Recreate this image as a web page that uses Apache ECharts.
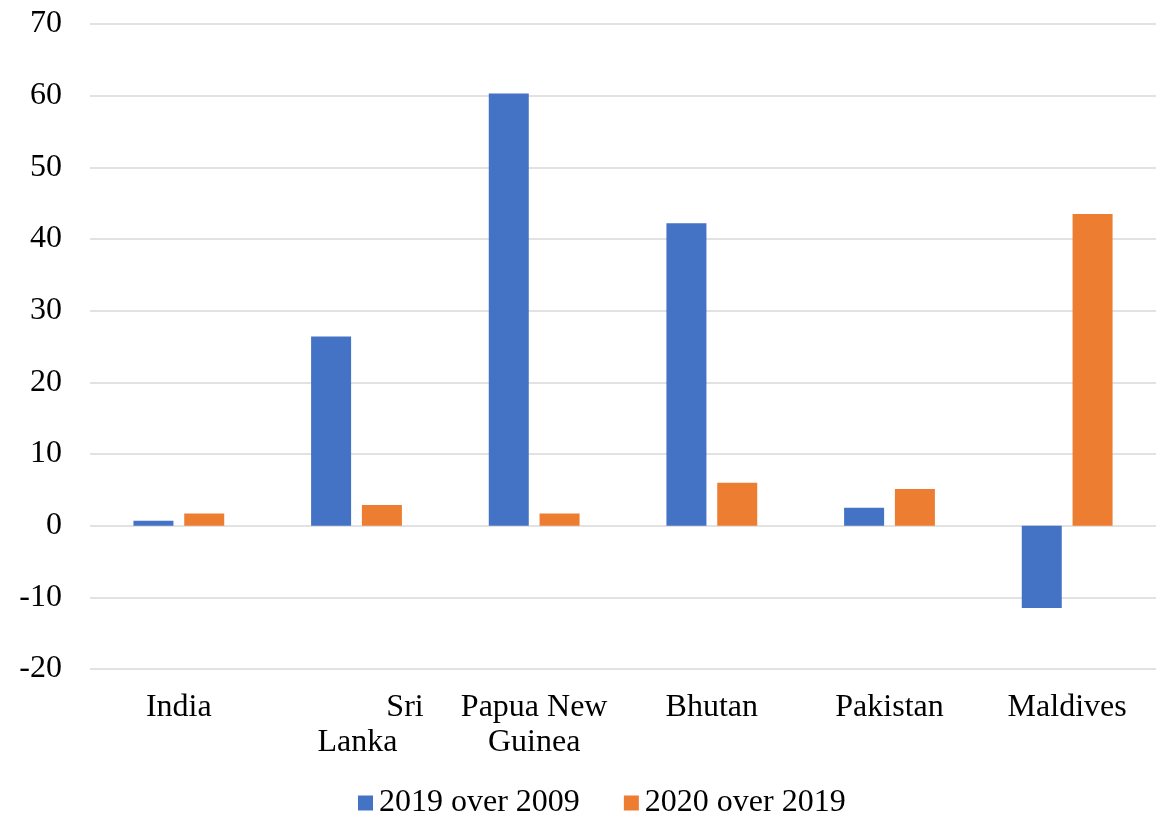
<!DOCTYPE html>
<html>
<head>
<meta charset="utf-8">
<script src="https://cdn.jsdelivr.net/npm/echarts@6/dist/echarts.min.js"></script>
<style>
  html, body { margin: 0; padding: 0; background: #ffffff; }
  #chart { width: 1165px; height: 822px; }
</style>
</head>
<body>
<div id="chart"></div>
<script>
// Growth by country, two comparison periods
var categories = ['India', 'Sri Lanka', 'Papua New Guinea', 'Bhutan', 'Pakistan', 'Maldives'];
var seriesNames = ['2019 over 2009', '2020 over 2019'];
var growth2019over2009 = [0.7, 26.4, 60.3, 42.2, 2.5, -11.5];
var growth2020over2019 = [1.7, 2.9, 1.7, 6.0, 5.1, 43.5];
var yTicks = { min: -20, max: 70, interval: 10 };

var FONT = '"Liberation Serif", "Times New Roman", serif';
var FS = 32;

var chart = echarts.init(document.getElementById('chart'), null, { renderer: 'canvas' });

chart.setOption({
  backgroundColor: '#ffffff',
  animation: false,
  color: ['#4472C4', '#ED7D31'],
  grid: { left: 90, right: 9, top: 24, bottom: 153, containLabel: false },
  legend: {
    data: seriesNames,
    bottom: -2,
    left: 353,
    itemWidth: 15,
    itemHeight: 15,
    itemGap: 44,
    icon: 'rect',
    textStyle: { fontFamily: FONT, fontSize: FS, color: '#000000', padding: [0, 0, 0, 1] }
  },
  xAxis: {
    type: 'category',
    data: categories,
    axisLine: { show: false },
    axisTick: { show: false },
    splitLine: { show: false },
    axisLabel: {
      interval: 0,
      margin: 21,
      color: '#000000',
      fontFamily: FONT,
      fontSize: FS,
      lineHeight: 35,
      formatter: function (name) {
        if (name === 'Sri Lanka') return '{a|Sri}\n{b|Lanka}';
        if (name === 'Papua New Guinea') return 'Papua New\nGuinea';
        return name;
      },
      rich: {
        a: { fontFamily: FONT, fontSize: FS, color: '#000000', lineHeight: 35, padding: [0, 0, 0, 97] },
        b: { fontFamily: FONT, fontSize: FS, color: '#000000', lineHeight: 35, padding: [0, 26, 0, 28] }
      }
    }
  },
  yAxis: {
    type: 'value',
    min: yTicks.min,
    max: yTicks.max,
    interval: yTicks.interval,
    axisLine: { show: false },
    axisTick: { show: false },
    axisLabel: {
      margin: 28,
      color: '#000000',
      fontFamily: FONT,
      fontSize: FS
    },
    splitLine: { lineStyle: { color: '#d9d9d9', width: 1.5 } }
  },
  series: [
    {
      name: seriesNames[0],
      type: 'bar',
      data: growth2019over2009,
      barWidth: 40,
      barGap: '27%'
    },
    {
      name: seriesNames[1],
      type: 'bar',
      data: growth2020over2019,
      barWidth: 40,
      barGap: '27%'
    }
  ]
});
</script>
</body>
</html>
